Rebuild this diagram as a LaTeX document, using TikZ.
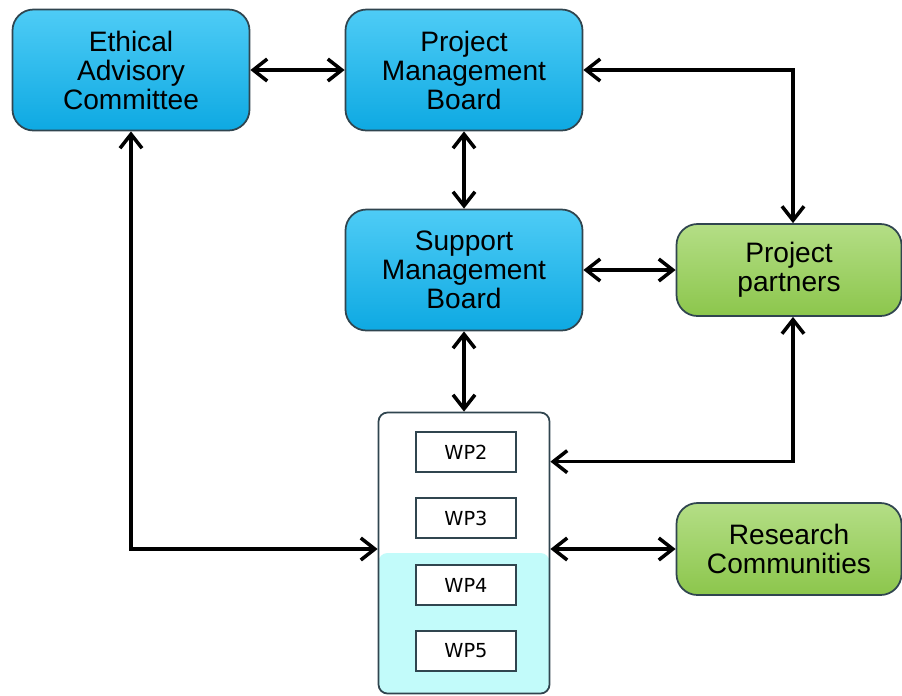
\documentclass[tikz,border=0pt]{standalone}
\usepackage{fontspec}
\setmainfont{Liberation Sans}
\newfontfamily\wpfont{DejaVu Sans}
\usetikzlibrary{arrows.meta,calc,positioning}
\definecolor{boardtop}{HTML}{4ECCF6}
\definecolor{boardbot}{HTML}{0EA9E2}
\definecolor{parttop}{HTML}{B4DE86}
\definecolor{partbot}{HTML}{8CC64C}
\definecolor{boxline}{HTML}{30454F}
\definecolor{wpcyan}{HTML}{C2FBFA}
\tikzstyle{board}=[draw=boxline,line width=1pt,rounded corners=0.42cm,top color=boardtop,bottom color=boardbot,minimum width=4.74cm,minimum height=2.42cm,align=center,font=\fontsize{16}{16.5}\selectfont]
\tikzstyle{partner}=[board,top color=parttop,bottom color=partbot,minimum width=4.5cm,minimum height=1.84cm]
\tikzstyle{wp}=[draw=boxline,line width=1pt,fill=white,minimum width=2cm,minimum height=0.8cm,font=\wpfont\fontsize{11}{12}\selectfont]
\tikzstyle{wpbox}=[draw=boxline,line width=1pt,rounded corners=0.18cm,fill=white,minimum width=3.42cm,minimum height=5.62cm,path picture={\fill[wpcyan] (path picture bounding box.west) rectangle (path picture bounding box.south east);}]
\tikzset{link/.style={line width=2pt,>={Straight Barb[length=0.28cm,width=0.44cm]}}}

\begin{document}
\begin{tikzpicture}
\useasboundingbox (0,0) rectangle (18.04,-13.9);
\node[board] (EAC) at (2.62,-1.40) {Ethical\\Advisory\\Committee};
\node[board] (PMB) at (9.28,-1.40) {Project\\Management\\Board};
\node[board] (SMB) at (9.28,-5.40) {Support\\Management\\Board};
\node[partner] (PP) at (15.78,-5.40) {Project\\partners};
\node[partner] (RC) at (15.78,-10.98) {Research\\Communities};
\node[wpbox] (WP) at (9.28,-11.06) {};
\node[wp] (WP2) at (9.32,-9.04) {WP2};
\node[wp] (WP3) at (9.32,-10.36) {WP3};
\node[wp] (WP4) at (9.32,-11.70) {WP4};
\node[wp] (WP5) at (9.32,-13.02) {WP5};
\path[link,<->]
(EAC) edge (PMB)
(PMB) edge (SMB)
(SMB) edge (PP)
(SMB) edge (WP)
(RC.west -| WP.east) edge (RC.west);
\draw[link,<->] (PMB.east) -| ([xshift=0.08cm]PP.north);
\draw[link,<->] ([xshift=0.08cm]PP.south) |- ([yshift=-1cm]WP.north east);
\draw[link,<->] (EAC.south) |- (RC.west -| WP.west);
\end{tikzpicture}
\end{document}
